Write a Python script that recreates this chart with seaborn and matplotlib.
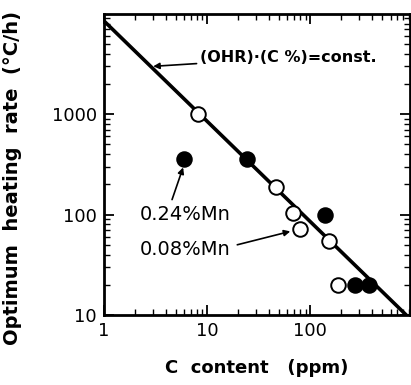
import numpy as np
import pandas as pd
import matplotlib
matplotlib.use("Agg")
import matplotlib.pyplot as plt
import seaborn as sns
from matplotlib.ticker import LogLocator, FixedLocator, NullFormatter, FixedFormatter

# Data
open_c = [8.2, 47, 68, 80, 153, 187]          # 0.08%Mn, C content (ppm)
open_ohr = [1000, 190, 103, 72, 55, 20]       # optimum heating rate (°C/h)
filled_c = [6.0, 24.4, 140, 273, 374]         # 0.24%Mn
filled_ohr = [355, 360, 100, 20, 20]
const = 8500                                   # (OHR)(C%) = const
line_c = [1, 850]
x_ticks = [1, 10, 100]
x_ticklabels = ["1", "10", "100"]
y_ticks = [10, 100, 1000]
y_ticklabels = ["10", "100", "1000"]

sns.set_theme(style="white")
plt.rcParams['font.family'] = ['DejaVu Sans']
plt.rcParams['text.color'] = 'black'
plt.rcParams['axes.labelcolor'] = 'black'
plt.rcParams['xtick.color'] = 'black'
plt.rcParams['ytick.color'] = 'black'

fig = plt.figure(figsize=(4.11, 3.85), dpi=100)
ax = fig.add_axes([0.253, 0.182, 0.745, 0.782])

line_df = pd.DataFrame({"c": line_c, "ohr": [const / c for c in line_c]})
sns.lineplot(data=line_df, x="c", y="ohr", ax=ax, color="black", lw=2.6)

df_open = pd.DataFrame({"c": open_c, "ohr": open_ohr})
df_fill = pd.DataFrame({"c": filled_c, "ohr": filled_ohr})
sns.scatterplot(data=df_open, x="c", y="ohr", ax=ax, s=110, marker="o",
                facecolor="white", edgecolor="black", linewidth=1.4, zorder=5)
sns.scatterplot(data=df_fill, x="c", y="ohr", ax=ax, s=110, marker="o",
                facecolor="black", edgecolor="black", linewidth=1.4, zorder=5)

ax.set_xscale("log")
ax.set_yscale("log")
ax.set_xlim(1, 930)
ax.set_ylim(10, 10000)

ax.xaxis.set_major_locator(FixedLocator(x_ticks))
ax.xaxis.set_major_formatter(FixedFormatter(x_ticklabels))
ax.yaxis.set_major_locator(FixedLocator(y_ticks))
ax.yaxis.set_major_formatter(FixedFormatter(y_ticklabels))
ax.xaxis.set_minor_locator(LogLocator(base=10, subs=np.arange(2, 10)))
ax.yaxis.set_minor_locator(LogLocator(base=10, subs=np.arange(2, 10)))
ax.xaxis.set_minor_formatter(NullFormatter())
ax.yaxis.set_minor_formatter(NullFormatter())

ax.tick_params(which="both", direction="in", top=True, right=True,
               bottom=True, left=True)
ax.tick_params(which="major", length=7, width=1.3, labelsize=13, pad=5)
ax.tick_params(which="minor", length=4, width=1.0)
for s in ax.spines.values():
    s.set_color("black")
    s.set_linewidth(2.0)

ax.set_xlabel("C  content   (ppm)", fontsize=13, fontweight="bold")
ax.set_ylabel("Optimum  heating  rate  (°C/h)", fontsize=14, fontweight="bold")
ax.xaxis.set_label_coords(0.5, -0.145)
ax.yaxis.set_label_coords(-0.268, 0.455)

arrow = dict(arrowstyle="-|>", color="black", lw=1.2, mutation_scale=9,
             shrinkA=0, shrinkB=0)
ax.annotate("(OHR)·(C %)=const.", xy=(3.0, 3000), xytext=(8.5, 3650),
            fontsize=11.5, fontweight="bold", va="center", ha="left",
            arrowprops=arrow)
ax.annotate("", xy=(5.85, 295), xytext=(4.57, 141), arrowprops=dict(arrow))
ax.text(2.2, 100, "0.24%Mn", fontsize=14, ha="left", va="center")
ax.annotate("", xy=(64, 68), xytext=(19.6, 50), arrowprops=dict(arrow))
ax.text(2.2, 45, "0.08%Mn", fontsize=14, ha="left", va="center")

fig.savefig("out.png", dpi=100)
